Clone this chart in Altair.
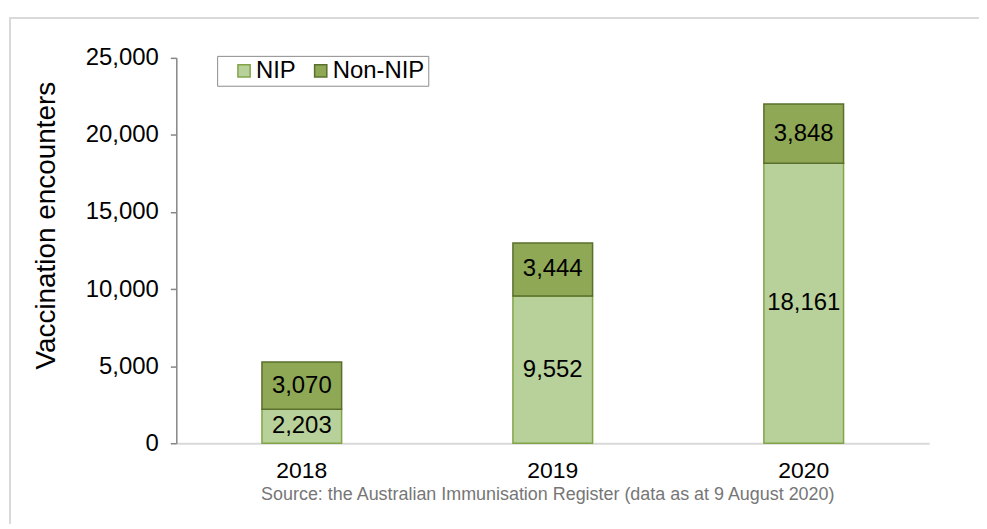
import altair as alt
import pandas as pd

years = ["2018", "2019", "2020"]
nip = [2203, 9552, 18161]
non_nip = [3070, 3444, 3848]
series = ["NIP", "Non-NIP"]
y_ticks = [0, 5000, 10000, 15000, 20000, 25000]
source_note = ["Source: the Australian Immunisation Register (data as at 9 August 2020)"]

rows = []
for i, yr in enumerate(years):
    rows.append({"year": yr, "series": series[0], "value": nip[i], "order": 0})
    rows.append({"year": yr, "series": series[1], "value": non_nip[i], "order": 1})
df = pd.DataFrame(rows)

FONT = "Liberation Sans"
fills = ["#B8D09A", "#8EA855"]
strokes = ["#82A447", "#5A6F2C"]

legend_cfg = dict(
    orient="none", legendX=41, legendY=-2, direction="horizontal", title=None,
    strokeColor="#8C8C8C", fillColor="white", padding=3,
    labelFont=FONT, labelFontSize=24, labelColor="black",
    symbolType="square", symbolSize=150, symbolStrokeWidth=1.5,
    columnPadding=0, labelOffset=0, symbolOffset=12,
)

x_axis = alt.Axis(title=None, labelAngle=0, labelFont=FONT, labelFontSize=23,
                  labelColor="black", labelPadding=16, ticks=False,
                  domainColor="#D9D9D9", domainWidth=2)
y_axis = alt.Axis(values=y_ticks, labelExpr="format(datum.value, ',')", grid=False,
                  title="Vaccination encounters",
                  labelFont=FONT, labelFontSize=24, labelColor="black", labelPadding=12,
                  tickSize=6, tickColor="#868686", domainColor="#868686", domainWidth=1.5,
                  tickWidth=1.5,
                  titleFont=FONT, titleFontSize=28, titleFontWeight="normal",
                  titleColor="black", titleAngle=270, titleAlign="center",
                  titleBaseline="middle", titleX=-130, titleY=168)
x_scale = alt.Scale(paddingInner=0, paddingOuter=0)
y_scale = alt.Scale(domain=[0, 25000])

bars = alt.Chart(df).mark_bar(size=80, strokeWidth=1.5).encode(
    x=alt.X("year:N", sort=years, scale=x_scale, axis=x_axis),
    y=alt.Y("value:Q", stack="zero", scale=y_scale, axis=y_axis),
    fill=alt.Fill("series:N", scale=alt.Scale(domain=series, range=fills), legend=alt.Legend(**legend_cfg)),
    stroke=alt.Stroke("series:N", scale=alt.Scale(domain=series, range=strokes), legend=alt.Legend(**legend_cfg)),
    order=alt.Order("order:Q"),
)

labels = alt.Chart(df).transform_stack(
    stack="value", groupby=["year"], as_=["y0", "y1"], sort=[alt.SortField("order")]
).transform_calculate(mid="(datum.y0 + datum.y1) / 2").mark_text(
    font=FONT, fontSize=24, color="black", baseline="middle"
).encode(
    x=alt.X("year:N", sort=years, scale=x_scale, axis=x_axis),
    y=alt.Y("mid:Q", scale=y_scale, axis=y_axis),
    text=alt.Text("value:Q", format=","),
)

source = alt.Chart(pd.DataFrame({"t": source_note})).mark_text(
    font=FONT, fontSize=18, color="#767676", align="center", baseline="middle"
).encode(x=alt.value(373), y=alt.value(439), text="t:N")

border = alt.Chart(pd.DataFrame({"a": [0]})).mark_rect(
    fillOpacity=0, stroke="#D9D9D9", strokeWidth=2
).encode(x=alt.value(-167), x2=alt.value(900), y=alt.value(-40), y2=alt.value(600))

chart = alt.layer(border, bars, labels, source).properties(
    width=756, height=387,
    autosize=alt.AutoSizeParams(type="none"),
    padding={"left": 169, "top": 49, "right": 50, "bottom": 80},
).configure_view(stroke=None)

chart.save("out.html", embed_options={"renderer": "svg", "actions": False})
